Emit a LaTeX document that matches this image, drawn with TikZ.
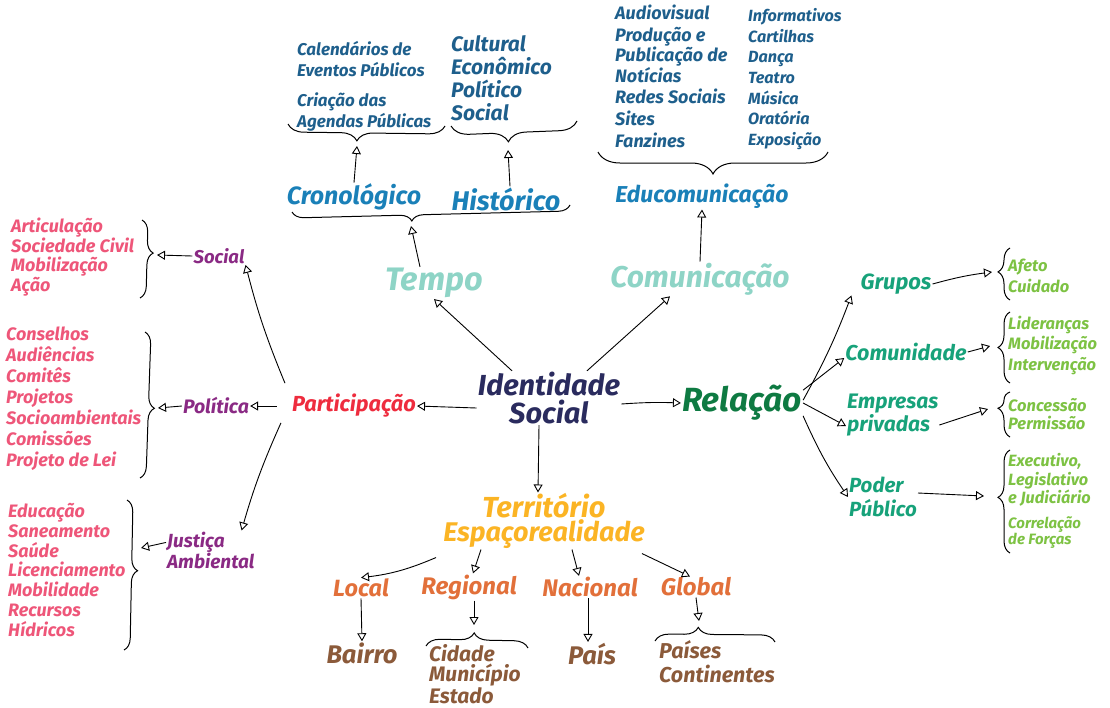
\documentclass[tikz,border=0pt]{standalone}
\usepackage{fontspec}
\setmainfont{Fira Sans}
\usetikzlibrary{arrows.meta, decorations.pathreplacing}

\definecolor{navy}{HTML}{2A2B5E}
\definecolor{mint}{HTML}{8ED4C6}
\definecolor{seablue}{HTML}{1A80B8}
\definecolor{inkblue}{HTML}{1E5F8C}
\definecolor{forest}{HTML}{0E7A42}
\definecolor{jade}{HTML}{17A27A}
\definecolor{limeleaf}{HTML}{7DC243}
\definecolor{scarlet}{HTML}{EE2C3E}
\definecolor{plum}{HTML}{8A2A84}
\definecolor{rose}{HTML}{EE5679}
\definecolor{amber}{HTML}{FBB424}
\definecolor{rust}{HTML}{E2703A}
\definecolor{cocoa}{HTML}{8B5A3A}

\tikzset{
  lbl/.style args={#1/#2}{inner sep=1pt, font=\bfseries\itshape\fontsize{#1}{#2}\selectfont},
  list/.style={align=left, anchor=west},
  arrow/.style={line width=0.9pt, -{Triangle[open, length=8pt, width=9pt, line width=0.9pt]}},
  curly/.style args={#1/#2}{line width=1pt, decorate,
    decoration={brace, amplitude=#1, aspect=#2}},
}

\begin{document}
\begin{tikzpicture}[x=1pt, y=-1pt]
  \useasboundingbox (0,0) rectangle (1110,707);

  % centre
  \node[lbl=29/28, navy, align=center] (ident) at (549,398) {Identidade\\Social};

  % tempo branch
  \node[lbl=32.5/30, mint] (tempo) at (434,283) {Tempo};
  \node[lbl=25/25, seablue] (crono) at (354,197) {Cronológico};
  \node[lbl=27/27, seablue] (hist) at (506,199) {Histórico};
  \node[lbl=17/21, inkblue, list] (cal) at (296,59) {Calendários de\\Eventos Públicos};
  \node[lbl=17/21, inkblue, list] (agenda) at (296,112) {Criação das\\Agendas Públicas};
  \node[lbl=21/23, inkblue, list] (dims) at (450,78) {Cultural\\Econômico\\Político\\Social};

  \draw[curly=12pt/0.57] (570,205) -- (292,212);
  \draw[curly=16pt/0.56] (445,126) -- (288,124);
  \draw[curly=18pt/0.55] (577,121) -- (451,126);
  \coordinate (tempotip) at (411,226);
  \coordinate (cronotip) at (357,146);
  \coordinate (histtip) at (508,150);

  % comunicacao branch
  \node[lbl=30/28, mint] (comun) at (700,279) {Comunicação};
  \node[lbl=23/20, seablue] (educ) at (702,196) {Educomunicação};
  \node[lbl=18/17.5, inkblue, list] (media) at (614,76)
    {Audiovisual\\[5pt]Produção e\\Publicação de\\Notícias\\[3pt]Redes Sociais\\[5pt]Sites\\[4pt]Fanzines};
  \node[lbl=16.2/20.7, inkblue, list] (arts) at (747,79)
    {Informativos\\Cartilhas\\Dança\\Teatro\\Música\\Oratória\\Exposição};
  \draw[curly=22pt/0.5] (828,152) -- (598,152);
  \coordinate (eductip) at (713,178);

  % relacao branch
  \node[lbl=33.5/32, forest] (rel) at (742,403) {Relação};
  \node[lbl=22/22, jade] (grupos) at (896,284) {Grupos};
  \node[lbl=21.5/22, jade] (comunid) at (906,352) {Comunidade};
  \node[lbl=21/23, jade, list] (empresas) at (846,415) {Empresas\\privadas};
  \node[lbl=20.5/24, jade, list] (poder) at (848,497) {Poder\\Público};

  \node[lbl=16.5/21, limeleaf, list] (afeto) at (1007,276) {Afeto\\Cuidado};
  \node[lbl=16.5/20.5, limeleaf, list] (lider) at (1007,345) {Lideranças\\Mobilização\\Intervenção};
  \node[lbl=16.5/18, limeleaf, list] (conces) at (1007,414) {Concessão\\Permissão};
  \node[lbl=16.3/18.5, limeleaf, list] (poderes) at (1007,480) {Executivo,\\Legislativo\\e Judiciário};
  \node[lbl=15/16, limeleaf, list] (forcas) at (1007,533) {Correlação\\de Forças};

  \draw[curly=12pt/0.54] (1010,300) -- (1010,248);
  \draw[curly=12pt/0.5] (1010,383) -- (1010,312);
  \draw[curly=12pt/0.64] (1010,437) -- (1010,392);
  \draw[curly=12pt/0.54] (1010,553) -- (1010,450);
  \coordinate (afetotip) at (992,272);
  \coordinate (lidertip) at (990,346);
  \coordinate (concestip) at (988,409);
  \coordinate (podertip) at (984,496);

  % participacao branch
  \node[lbl=21.8/20, scarlet] (part) at (354,406) {Participação};
  \node[lbl=18.5/16, plum] (social) at (219,256) {Social};
  \node[lbl=19.5/16, plum] (polit) at (216,406) {Política};
  \node[lbl=19/21, plum, list] (justica) at (166,550) {Justiça\\Ambiental};

  \node[lbl=18/19.7, rose, list] (soclist) at (10,257)
    {Articulação\\Sociedade Civil\\Mobilização\\Ação};
  \node[lbl=18/21, rose, list] (politlist) at (5,399)
    {Conselhos\\Audiências\\Comitês\\Projetos\\Socioambientais\\Comissões\\Projeto de Lei};
  \node[lbl=18/19.8, rose, list] (ambilist) at (7,570)
    {Educação\\Saneamento\\Saúde\\Licenciamento\\Mobilidade\\Recursos\\Hídricos};

  \draw[curly=12pt/0.42] (142,220) -- (140,298);
  \draw[curly=12pt/0.52] (145,332) -- (140,478);
  \draw[curly=12pt/0.47] (127,500) -- (124,650);
  \coordinate (soctip) at (157,255);
  \coordinate (polittip) at (158,408);
  \coordinate (ambitip) at (141,548);

  % territorio branch
  \node[inner sep=1pt, align=center, amber] (terr) at (544,521)
    {\bfseries\itshape\fontsize{29}{27}\selectfont Território\\
     \bfseries\itshape\fontsize{27}{27.5}\selectfont Espaçorealidade};
  \node[lbl=23.5/20, rust] (local) at (361,588) {Local};
  \node[lbl=24/20, rust] (regional) at (469,587) {Regional};
  \node[lbl=24/20, rust] (nacional) at (590,587) {Nacional};
  \node[lbl=24/20, rust] (global) at (696,587) {Global};
  \node[lbl=25.5/21, cocoa] (bairro) at (362,653) {Bairro};
  \node[lbl=25.5/21, cocoa] (pais) at (592,654) {País};
  \node[lbl=21/20, cocoa, list] (cidade) at (428,674) {Cidade\\Município\\Estado};
  \node[lbl=21.5/24, cocoa, list] (paises) at (658,662) {Países\\Continentes};

  \draw[curly=14pt/0.47] (426,646) -- (528,648);
  \draw[curly=14pt/0.36] (655,641) -- (775,642);
  \coordinate (regiotip) at (474,625);
  \coordinate (globaltip) at (699,621);

  % arrows out of the centre
  \draw[arrow] ([xshift=-37pt]ident.north) -- (tempo.south);
  \draw[arrow] ([xshift=38pt]ident.north) -- ([xshift=-30pt]comun.south);
  \draw[arrow] ([yshift=-6pt]ident.east) to[bend left=3] (rel.west);
  \draw[arrow] ([yshift=-10pt]ident.west) -- (part.east);
  \draw[arrow] ([xshift=-10pt]ident.south) -- (terr.north -| 538,0);

  % tempo
  \draw[arrow] ([xshift=-14pt]tempo.north) -- (tempotip);
  \draw[arrow] (crono.north) -- (cronotip);
  \draw[arrow] ([xshift=4pt]hist.north) -- (histtip);
  \draw[arrow] (comun.north) -- (educ.south);

  % relacao
  \draw[arrow] ([yshift=-16pt]rel.north east) to[bend right=4] ([xshift=-8pt]grupos.south west);
  \draw[arrow] ([yshift=-6pt]rel.north east) -- ([yshift=-6pt]comunid.west);
  \draw[arrow] (rel.east) -- ([yshift=-11pt]empresas.west);
  \draw[arrow] ([yshift=6pt]rel.south east) to[bend right=5] (poder.west);
  \draw[arrow] (grupos.east) to[bend left=4] (afetotip);
  \draw[arrow] (comunid.east) -- (lidertip);
  \draw[arrow] ([yshift=-10pt]empresas.east) -- (concestip);
  \draw[arrow] ([yshift=4pt]poder.east) -- (podertip);

  % participacao
  \draw[arrow] ([xshift=-6pt,yshift=10pt]part.north west) to[bend left=4] (social.south east);
  \draw[arrow] ([xshift=-14pt]part.west) -- (polit.east);
  \draw[arrow] ([xshift=-10pt,yshift=-4pt]part.south west) to[bend right=4] ([xshift=-14pt]justica.north east);
  \draw[arrow] (social.west) -- (soctip);
  \draw[arrow] (polit.west) -- (polittip);
  \draw[arrow] ([yshift=-12pt]justica.north west) -- (ambitip);

  % territorio
  \draw[arrow] ([xshift=-6pt,yshift=-8pt]terr.south west) to[bend left=8] (local.north);
  \draw[arrow] ([xshift=-63pt]terr.south) -- ([xshift=4pt]regional.north);
  \draw[arrow] ([xshift=28pt]terr.south) -- ([xshift=-11pt]nacional.north);
  \draw[arrow] ([xshift=-4pt,yshift=-4pt]terr.south east) -- ([xshift=-6pt]global.north);
  \draw[arrow] (local.south) -- (bairro.north);
  \draw[arrow] ([xshift=5pt]regional.south) -- (regiotip);
  \draw[arrow] ([xshift=-2pt]nacional.south) -- ([xshift=-4pt]pais.north);
  \draw[arrow] (global.south) -- (globaltip);
\end{tikzpicture}
\end{document}
